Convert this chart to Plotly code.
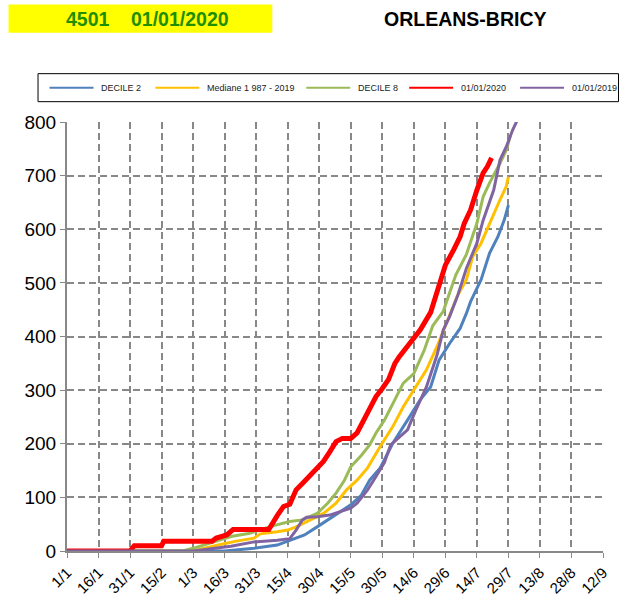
import plotly.graph_objects as go

# x = days since 1 January 2020, y = cumulative value
tick_days = [0, 15, 30, 45, 60, 75, 90, 105, 120, 135, 150, 165, 180, 195, 210, 225, 240, 255]
tick_labels = ["1/1", "16/1", "31/1", "15/2", "1/3", "16/3", "31/3", "15/4", "30/4",
               "15/5", "30/5", "14/6", "29/6", "14/7", "29/7", "13/8", "28/8", "12/9"]

decile2_days = [0, 75, 89, 100, 106, 113, 119, 125, 130, 135, 140, 144, 149, 155, 162, 168,
                173, 177, 182, 187, 190, 192, 197, 201, 205, 208, 210]
decile2_vals = [0, 0, 5, 11, 20, 30, 45, 61, 73, 86, 104, 132, 155, 201, 244, 282,
                306, 356, 387, 415, 443, 465, 506, 555, 586, 617, 645]

median_days = [0, 60, 73, 80, 89, 92, 100, 105, 109, 116, 122, 128, 133, 138, 143, 149, 155,
               160, 165, 171, 176, 181, 186, 190, 193, 197, 201, 206, 209, 210]
median_vals = [0, 0, 12, 18, 24, 32, 36, 39, 45, 58, 70, 89, 114, 132, 155, 195, 232,
               269, 300, 338, 381, 430, 478, 506, 549, 574, 611, 655, 680, 698]

decile8_days = [0, 55, 60, 70, 78, 87, 97, 106, 112, 119, 124, 128, 132, 135, 140, 144, 147,
                151, 155, 160, 165, 170, 174, 179, 182, 185, 190, 195, 198, 201, 206, 209, 211]
decile8_vals = [0, 0, 5, 17, 27, 33, 46, 55, 58, 70, 89, 108, 132, 157, 178, 198, 220,
                244, 275, 313, 331, 375, 420, 447, 481, 515, 553, 611, 661, 686, 723, 748, 775]

y2020_days = [0, 30, 32, 45, 46, 69, 71, 76, 79, 96, 100, 103, 106, 109, 112, 116, 119, 122,
              125, 128, 131, 135, 138, 141, 144, 147, 150, 153, 156, 158, 163, 168, 173, 177,
              180, 184, 187, 189, 192, 195, 198, 200, 202]
y2020_vals = [0, 0, 10, 10, 18, 18, 24, 30, 40, 40, 66, 83, 87, 114, 126, 142, 157, 167,
              185, 204, 210, 210, 220, 244, 263, 288, 303, 320, 350, 362, 387, 412, 445, 500,
              533, 562, 586, 611, 636, 673, 705, 717, 733]

y2019_days = [0, 60, 78, 89, 100, 106, 109, 112, 114, 119, 125, 130, 135, 138, 143, 147, 151,
              154, 156, 162, 166, 171, 176, 179, 182, 186, 190, 195, 198, 203, 206, 209, 212, 215]
y2019_vals = [0, 0, 9, 17, 20, 23, 39, 58, 63, 64, 67, 73, 80, 89, 114, 139, 165,
              198, 205, 226, 263, 306, 365, 412, 437, 478, 527, 574, 617, 673, 729, 754, 785, 810]

series_names = ["DECILE 2", "Mediane 1 987 - 2019", "DECILE 8", "01/01/2020", "01/01/2019"]
series_colors = ["#4F81BD", "#FFC000", "#9BBB59", "#FF0000", "#8064A2"]
series_widths = [3, 3, 3, 5, 3]
series_data = [(decile2_days, decile2_vals), (median_days, median_vals),
               (decile8_days, decile8_vals), (y2020_days, y2020_vals),
               (y2019_days, y2019_vals)]

fig = go.Figure()
for name, (xs, ys), color, w in zip(series_names, series_data, series_colors, series_widths):
    fig.add_trace(go.Scatter(x=xs, y=ys, mode="lines", name=name,
                             line=dict(color=color, width=w), showlegend=False))

W, H = 621, 608
L, R, T, B = 66.5, 18, 122.3, 57
pw, ph = W - L - R, H - T - B


def px(x):
    return (x - L) / pw


def py(y):
    return (H - B - y) / ph


# manual legend box (pixel layout of the reference)
leg_line_x = [49, 155, 306, 409, 520]
leg_y = 88
shapes = [
    dict(type="rect", xref="paper", yref="paper", x0=px(8), x1=px(272), y0=py(33), y1=py(5),
         fillcolor="#FFFF00", line=dict(width=0), layer="below"),
    dict(type="rect", xref="paper", yref="paper", x0=px(37.5), x1=px(618.5), y0=py(102),
         y1=py(74), fillcolor="white", line=dict(color="black", width=1)),
]
annotations = [
    dict(text="<b>4501</b>", xref="paper", yref="paper", x=px(88), y=py(19), xanchor="center",
         yanchor="middle", showarrow=False, font=dict(size=19.5, color="#1f8f00")),
    dict(text="<b>01/01/2020</b>", xref="paper", yref="paper", x=px(180), y=py(19),
         xanchor="center", yanchor="middle", showarrow=False,
         font=dict(size=19.5, color="#1f8f00")),
    dict(text="<b>ORLEANS-BRICY</b>", xref="paper", yref="paper", x=px(465), y=py(19),
         xanchor="center", yanchor="middle", showarrow=False,
         font=dict(size=19.5, color="black")),
]
for name, color, lx in zip(series_names, series_colors, leg_line_x):
    shapes.append(dict(type="line", xref="paper", yref="paper", x0=px(lx), x1=px(lx + 44),
                       y0=py(leg_y), y1=py(leg_y), line=dict(color=color, width=2)))
    annotations.append(dict(text=name, xref="paper", yref="paper", x=px(lx + 50), y=py(leg_y),
                            xanchor="left", yanchor="middle", showarrow=False,
                            font=dict(size=9, color="#222")))

fig.update_layout(
    width=W, height=H,
    margin=dict(l=L, r=R, t=T, b=B, pad=0),
    paper_bgcolor="white", plot_bgcolor="white",
    font=dict(family="Liberation Sans, Arial, sans-serif", color="black"),
    showlegend=False,
    xaxis=dict(range=[0, 255], tickmode="array", tickvals=tick_days, ticktext=tick_labels,
               tickangle=-45, tickfont=dict(size=15), ticks="outside", ticklen=5,
               tickcolor="#888", showgrid=True, gridcolor="#888", griddash="7px,4px",
               gridwidth=1.5, showline=True, linecolor="#888", linewidth=2, zeroline=False),
    yaxis=dict(range=[0, 800], dtick=100, tickfont=dict(size=19), ticks="outside",
               ticklen=5, tickcolor="#888", showgrid=True, gridcolor="#888",
               griddash="7px,4px", gridwidth=1.5, showline=True, linecolor="#888",
               linewidth=2, zeroline=False),
    shapes=shapes,
    annotations=annotations,
)

fig.write_html("out.html", config={"displayModeBar": False},
               post_script="document.body.style.margin='0px';")
